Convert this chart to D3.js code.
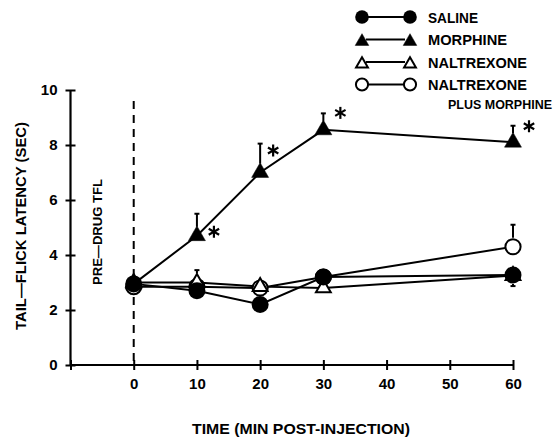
<!DOCTYPE html>
<html><head><meta charset="utf-8">
<script src="https://cdn.jsdelivr.net/npm/d3@7"></script>
<style>body{margin:0;background:#fff}svg{display:block}text{font-family:"Liberation Sans",Arial,sans-serif;font-weight:bold;fill:#000}</style>
</head><body>
<script>
// ---- data ----
const times = [0, 10, 20, 30, 60];
const saline = [2.95, 2.7, 2.2, 3.2, 3.27];
const morphine = [2.95, 4.7, 7.0, 8.55, 8.1];
const naltrexone = [3.0, 3.0, 2.85, 2.8, 3.25];
const naltrexonePlusMorphine = [2.85, 2.85, 2.8, 3.2, 4.3];
const salineErr = [0, 0, 0, 0, -0.4];
const morphineErr = [0, 0.8, 1.05, 0.6, 0.6];
const naltrexoneErr = [0, 0.45, 0, 0, 0];
const npmErr = [0, 0, 0, 0, 0.8];
const morphineSignificant = [false, true, true, true, true];
const xTicks = [0, 10, 20, 30, 40, 50, 60];
const yTicks = [0, 2, 4, 6, 8, 10];
const legendLabels = ["SALINE", "MORPHINE", "NALTREXONE", "NALTREXONE"];
const legendExtra = "PLUS MORPHINE";
const xTitle = "TIME (MIN POST-INJECTION)";
const yTitle = "TAIL\u2014FLICK LATENCY (SEC)";
const preDrugLabel = "PRE\u2014DRUG TFL";

// ---- layout ----
const W = 559, H = 438;
const svg = d3.select("body").append("svg").attr("width", W).attr("height", H);
const x = d3.scaleLinear().domain([-10, 60]).range([70.5, 513]);
const y = d3.scaleLinear().domain([0, 10]).range([365, 90]);

function fit(sel, len) { return sel.attr("textLength", len).attr("lengthAdjust", "spacingAndGlyphs"); }

// axes
const yAx = svg.append("g").attr("transform", `translate(${x(-10)},0)`)
  .call(d3.axisLeft(y).tickValues(yTicks).tickSize(4).tickPadding(9).tickFormat(d3.format("d")));
yAx.select(".domain").remove();
yAx.append("line").attr("y1", y(0)).attr("y2", y(10)).attr("stroke", "#000").attr("stroke-width", 2.2);
yAx.selectAll(".tick line").attr("x1", -5).attr("x2", 5).attr("stroke-width", 2);
yAx.selectAll(".tick text").attr("font-size", 15).attr("font-family", "Liberation Sans").attr("font-weight", "bold");

const xAx = svg.append("g").attr("transform", `translate(0,${y(0)})`)
  .call(d3.axisBottom(x).tickValues([-10].concat(xTicks)).tickSize(4).tickPadding(9)
    .tickFormat(d => d < 0 ? "" : d));
xAx.select(".domain").remove();
xAx.append("line").attr("x1", x(-10)).attr("x2", x(60)).attr("stroke", "#000").attr("stroke-width", 2.2);
xAx.selectAll(".tick line").attr("y1", -5).attr("y2", 5).attr("stroke-width", 2);
xAx.selectAll(".tick text").attr("font-size", 15).attr("font-family", "Liberation Sans").attr("font-weight", "bold");

// titles
fit(svg.append("text").attr("x", 301).attr("y", 434).attr("text-anchor", "middle")
  .attr("font-size", 15).text(xTitle), 218);
fit(svg.append("text").attr("transform", "translate(26,226) rotate(-90)").attr("text-anchor", "middle")
  .attr("font-size", 15).text(yTitle), 208);
fit(svg.append("text").attr("transform", "translate(102,232) rotate(-90)").attr("text-anchor", "middle")
  .attr("font-size", 13).text(preDrugLabel), 106);

// dashed pre-drug line
svg.append("line").attr("x1", x(0)).attr("x2", x(0)).attr("y1", y(9.6)).attr("y2", y(0))
  .attr("stroke", "#000").attr("stroke-width", 2).attr("stroke-dasharray", "8,6");

// series
const series = [
  {vals: naltrexonePlusMorphine, err: npmErr, shape: "circle", fill: "#fff"},
  {vals: naltrexone, err: naltrexoneErr, shape: "triangle", fill: "#fff"},
  {vals: saline, err: salineErr, shape: "circle", fill: "#000"},
  {vals: morphine, err: morphineErr, shape: "triangle", fill: "#000"}
];
const line = d3.line().x(d => x(d[0])).y(d => y(d[1]));
const triPath = s => d3.symbol().type(d3.symbolTriangle).size(s)();

function marker(g, shape, fill, cx, cy, scale) {
  if (shape === "circle") {
    g.append("circle").attr("cx", cx).attr("cy", cy).attr("r", (fill === "#000" ? 8.5 : 7.6) * scale)
      .attr("fill", fill).attr("stroke", "#000").attr("stroke-width", fill === "#000" ? 0 : 2);
  } else {
    g.append("path").attr("d", triPath((fill === "#000" ? 125 : 95) * scale * scale))
      .attr("transform", `translate(${cx},${cy})`)
      .attr("fill", fill).attr("stroke", "#000").attr("stroke-width", fill === "#000" ? 0.5 : 2)
      .attr("stroke-linejoin", "miter");
  }
}

const gLines = svg.append("g");
series.forEach(s => {
  gLines.append("path").datum(times.map((t, i) => [t, s.vals[i]])).attr("d", line)
    .attr("fill", "none").attr("stroke", "#000").attr("stroke-width", 2);
});
const gErr = svg.append("g");
series.forEach(s => {
  times.forEach((t, i) => {
    const e = s.err[i];
    if (!e) return;
    const cx = x(t), cy = y(s.vals[i]), ey = y(s.vals[i] + e);
    const off = e > 0 ? -9 : 9;
    gErr.append("line").attr("x1", cx).attr("x2", cx).attr("y1", cy + off).attr("y2", ey)
      .attr("stroke", "#000").attr("stroke-width", 2);
    gErr.append("line").attr("x1", cx - 2.5).attr("x2", cx + 2.5).attr("y1", ey).attr("y2", ey)
      .attr("stroke", "#000").attr("stroke-width", 2);
  });
});
const gMarks = svg.append("g");
series.forEach(s => {
  times.forEach((t, i) => marker(gMarks, s.shape, s.fill, x(t), y(s.vals[i]), 1));
});

// asterisks for significant morphine points
function asterisk(g, cx, cy, r) {
  [90, 30, 150].forEach(a => {
    const rad = a * Math.PI / 180;
    g.append("line").attr("x1", cx - r * Math.cos(rad)).attr("y1", cy - r * Math.sin(rad))
      .attr("x2", cx + r * Math.cos(rad)).attr("y2", cy + r * Math.sin(rad))
      .attr("stroke", "#000").attr("stroke-width", 2.2);
  });
}
const astOff = [[0, 0], [17, -4], [13, -22], [17, -17], [16, -16]];
times.forEach((t, i) => {
  if (morphineSignificant[i]) asterisk(gMarks, x(t) + astOff[i][0], y(morphine[i]) + astOff[i][1], 6);
});

// legend
const legendShapes = [["circle", "#000"], ["triangle", "#000"], ["triangle", "#fff"], ["circle", "#fff"]];
const legendWidths = [50, 79, 99, 99];
const lg = svg.append("g");
const rowY = [17, 39.5, 62, 84.5];
legendLabels.forEach((lab, i) => {
  const yy = rowY[i];
  lg.append("line").attr("x1", 366).attr("x2", 405).attr("y1", yy).attr("y2", yy)
    .attr("stroke", "#000").attr("stroke-width", 2);
  const [sh, fi] = legendShapes[i];
  const yOff = sh === "triangle" ? 2 : 0;
  marker(lg, sh, fi, 362, yy + yOff, 0.8);
  marker(lg, sh, fi, 410, yy + yOff, 0.8);
  fit(lg.append("text").attr("x", 428).attr("y", yy + 5.5).attr("font-size", 15).text(lab), legendWidths[i]);
});
fit(lg.append("text").attr("x", 448).attr("y", 109).attr("font-size", 13).text(legendExtra), 104);
</script>
</body></html>
